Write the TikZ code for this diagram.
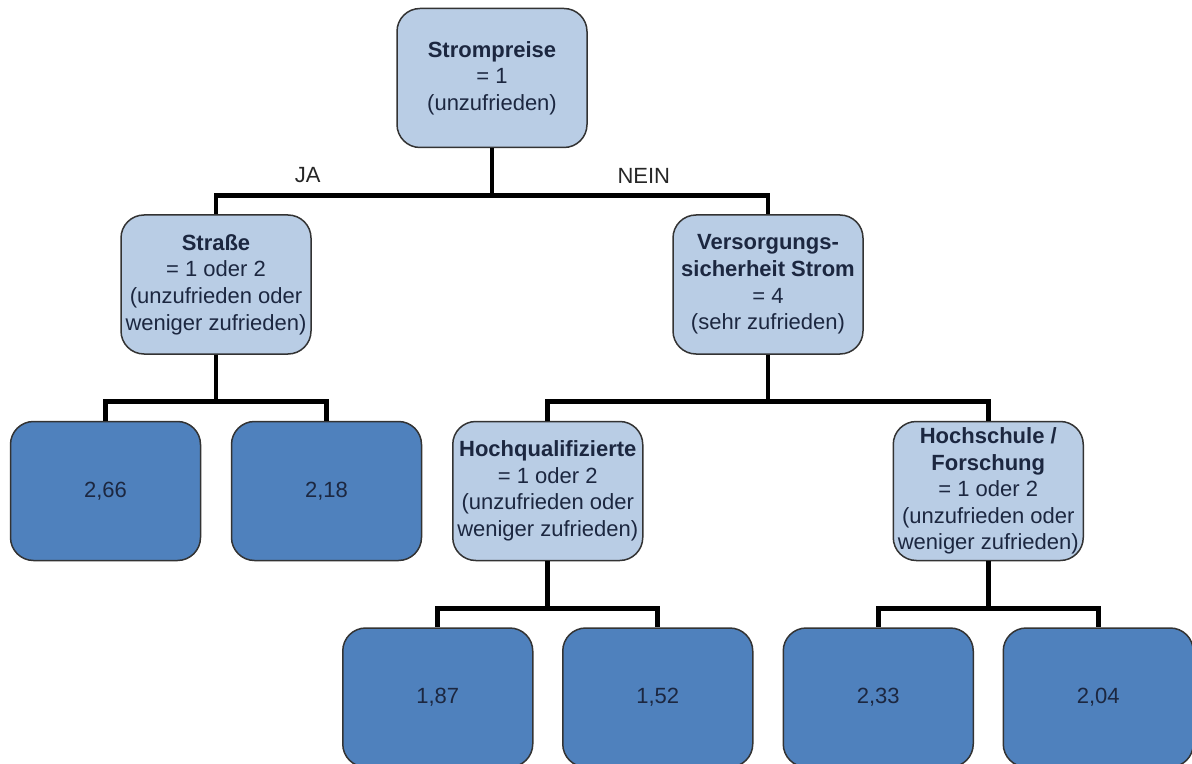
\documentclass[tikz,border=0pt]{standalone}
\usepackage{fontspec}
\setmainfont{Liberation Sans}
\definecolor{lightbox}{HTML}{B9CDE5}
\definecolor{darkbox}{HTML}{4F81BD}
\definecolor{boxtext}{HTML}{1C2740}
\tikzset{
  treenode/.style = {shape=rectangle, rounded corners=11.5pt,
                     draw=black!80, line width=0.75pt, align=center,
                     minimum width=95pt, minimum height=69.5pt, inner sep=1pt,
                     text=boxtext, font=\fontsize{11}{13.3}\selectfont},
  cond/.style     = {treenode, fill=lightbox},
  result/.style   = {treenode, fill=darkbox},
  branch/.style   = {font=\fontsize{11}{13.3}\selectfont, text=black!85, yshift=1.5pt}
}

\begin{document}
\begin{tikzpicture}
  [
  level distance = 103.25pt,
  edge from parent/.style = {draw, line width=2.4pt, black},
  edge from parent path = {(\tikzparentnode.south) -- ++(0,-23.5pt) -| (\tikzchildnode.north)}
  ]

  \tikzstyle{level 1}=[sibling distance = 276pt]
  \tikzstyle{level 2}=[sibling distance = 110.5pt]
  \tikzstyle{level 3}=[sibling distance = 110pt]

  \useasboundingbox (0,0) rectangle (596pt,-382pt);

\node[cond] (strompreise) at (246pt,-39pt) {\textbf{Strompreise}\\= 1\\(unzufrieden)}
	child{node [cond] (strasse) {\textbf{Straße}\\= 1 oder 2\\(unzufrieden oder\\weniger zufrieden)}
		child{node [result] (wert266) {2,66} }
		child{node [result] (wert218) {2,18} }
	edge from parent node [branch, above, pos=0.334] (ja) {JA} }
	child{node [cond] (versorgung) {\textbf{Versorgungs-}\\\textbf{sicherheit Strom}\\= 4\\(sehr zufrieden)}
		child[sibling distance = 220.25pt]{node [cond] (hochqual) {\textbf{Hochqualifizierte}\\= 1 oder 2\\(unzufrieden oder\\weniger zufrieden)}
			child{node [result] (wert187) {1,87} }
			child{node [result] (wert152) {1,52} } }
		child[sibling distance = 220.25pt]{node [cond] (hochschule) {\textbf{Hochschule /}\\\textbf{Forschung}\\= 1 oder 2\\(unzufrieden oder\\weniger zufrieden)}
			child{node [result] (wert233) {2,33} }
			child{node [result] (wert204) {2,04} } }
	edge from parent node [branch, above, pos=0.275] (nein) {NEIN} };

\end{tikzpicture}
\end{document}
